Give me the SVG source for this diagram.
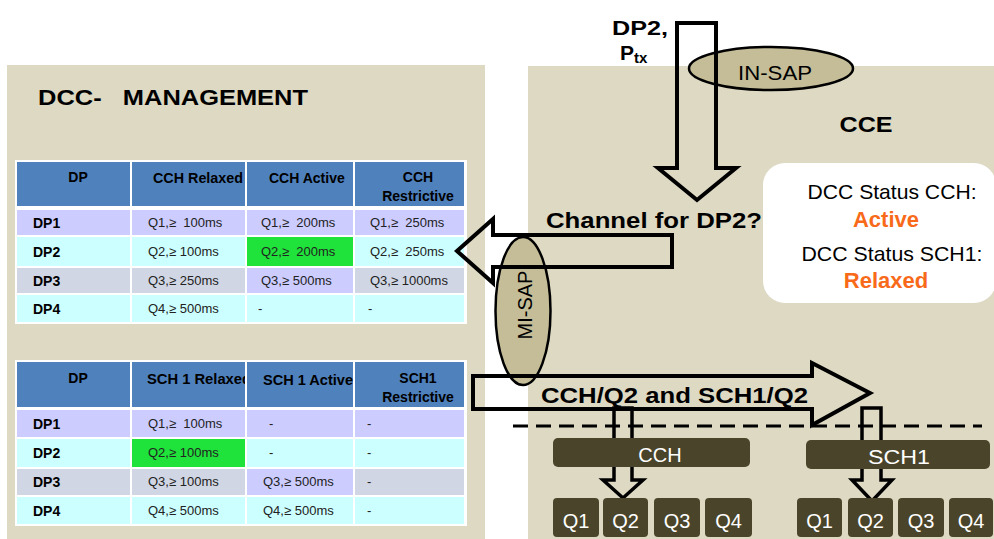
<svg xmlns="http://www.w3.org/2000/svg" width="994" height="539" viewBox="0 0 994 539">
<style>
text{font-family:"Liberation Sans",Arial,sans-serif;}
.b{font-weight:bold;}
.hd{font-size:14px;font-weight:bold;fill:#000;}
.lbl{font-size:14px;font-weight:bold;fill:#000;}
.cell{font-size:13px;fill:#222;white-space:pre;}
.h{fill:#4F81BD;}
.lav{fill:#CCCCFF;}
.cy{fill:#CCFFFF;}
.gr{fill:#D1D6E4;}
.grn{fill:#1FE23A;}
.panel{fill:#DDD9C3;}
.sap{fill:#C4BD97;stroke:#000;stroke-width:2.5;}
.arr{fill:none;stroke:#000;stroke-width:4;stroke-linejoin:miter;}
.sarr{fill:none;stroke:#000;stroke-width:3.5;stroke-linejoin:miter;}
.dk{fill:#4A452A;}
.wt{fill:#fff;font-size:20px;}
.or{fill:#F86A1A;font-weight:bold;font-size:22px;}
</style>
<defs>
<clipPath id="c2"><rect x="132" y="362" width="113" height="45"/></clipPath>
</defs>
<rect width="994" height="539" fill="#fff"/>
<g id="dcc-management">
<rect class="panel" x="7" y="65" width="478" height="474"/>
<text class="b" x="38" y="105" font-size="22" textLength="270" lengthAdjust="spacingAndGlyphs" xml:space="preserve">DCC-   MANAGEMENT</text>
</g>
<g id="cce">
<rect class="panel" x="528" y="66" width="466" height="473"/>
<text class="b" x="866" y="132" font-size="22" text-anchor="middle" textLength="53" lengthAdjust="spacingAndGlyphs">CCE</text>
</g>
<g id="table-cch">
<rect x="15" y="160" width="452" height="164" fill="#fff"/>
<rect class="h" x="17" y="162" width="113" height="44"/>
<rect class="h" x="132" y="162" width="113" height="44"/>
<rect class="h" x="247" y="162" width="106" height="44"/>
<rect class="h" x="355" y="162" width="109" height="44"/>
<text class="hd" x="78" y="182" text-anchor="middle">DP</text>
<text class="hd" x="153" y="183" textLength="90" lengthAdjust="spacingAndGlyphs">CCH Relaxed</text>
<text class="hd" x="269" y="183">CCH Active</text>
<text class="hd" x="418" y="182" text-anchor="middle">CCH</text>
<text class="hd" x="418" y="201" text-anchor="middle">Restrictive</text>
<rect class="lav" x="17" y="210" width="113" height="25"/>
<rect class="lav" x="132" y="210" width="113" height="25"/>
<rect class="lav" x="247" y="210" width="106" height="25"/>
<rect class="lav" x="355" y="210" width="109" height="25"/>
<rect class="cy" x="17" y="237" width="113" height="29"/>
<rect class="cy" x="132" y="237" width="113" height="29"/>
<rect class="grn" x="247" y="237" width="106" height="29"/>
<rect class="cy" x="355" y="237" width="109" height="29"/>
<rect class="gr" x="17" y="268" width="113" height="25"/>
<rect class="gr" x="132" y="268" width="113" height="25"/>
<rect class="lav" x="247" y="268" width="106" height="25"/>
<rect class="gr" x="355" y="268" width="109" height="25"/>
<rect class="cy" x="17" y="295" width="113" height="27"/>
<rect class="cy" x="132" y="295" width="113" height="27"/>
<rect class="cy" x="247" y="295" width="106" height="27"/>
<rect class="cy" x="355" y="295" width="109" height="27"/>
<text class="lbl" x="33" y="228">DP1</text>
<text class="lbl" x="33" y="257">DP2</text>
<text class="lbl" x="33" y="286">DP3</text>
<text class="lbl" x="33" y="314">DP4</text>
<text class="cell" x="148" y="227">Q1,≥  100ms</text>
<text class="cell" x="261" y="227">Q1,≥  200ms</text>
<text class="cell" x="370" y="227">Q1,≥  250ms</text>
<text class="cell" x="148" y="256">Q2,≥ 100ms</text>
<text class="cell" x="261" y="256">Q2,≥  200ms</text>
<text class="cell" x="370" y="256">Q2,≥  250ms</text>
<text class="cell" x="148" y="285">Q3,≥ 250ms</text>
<text class="cell" x="261" y="285">Q3,≥ 500ms</text>
<text class="cell" x="370" y="285">Q3,≥ 1000ms</text>
<text class="cell" x="148" y="313">Q4,≥ 500ms</text>
<text class="cell" x="258" y="313">-</text>
<text class="cell" x="368" y="313">-</text>
</g>
<g id="table-sch1">
<rect x="15" y="360" width="452" height="166" fill="#fff"/>
<rect class="h" x="17" y="362" width="113" height="45"/>
<rect class="h" x="132" y="362" width="113" height="45"/>
<rect class="h" x="247" y="362" width="106" height="45"/>
<rect class="h" x="355" y="362" width="109" height="45"/>
<text class="hd" x="78" y="383" text-anchor="middle">DP</text>
<text class="hd" x="147" y="384" clip-path="url(#c2)" textLength="104" lengthAdjust="spacingAndGlyphs">SCH 1 Relaxed</text>
<text class="hd" x="263" y="385" textLength="90" lengthAdjust="spacingAndGlyphs">SCH 1 Active</text>
<text class="hd" x="418" y="383" text-anchor="middle">SCH1</text>
<text class="hd" x="418" y="402" text-anchor="middle">Restrictive</text>
<rect class="lav" x="17" y="410" width="113" height="27"/>
<rect class="lav" x="132" y="410" width="113" height="27"/>
<rect class="lav" x="247" y="410" width="106" height="27"/>
<rect class="lav" x="355" y="410" width="109" height="27"/>
<rect class="cy" x="17" y="439" width="113" height="28"/>
<rect class="grn" x="132" y="439" width="113" height="28"/>
<rect class="cy" x="247" y="439" width="106" height="28"/>
<rect class="cy" x="355" y="439" width="109" height="28"/>
<rect class="gr" x="17" y="469" width="113" height="26"/>
<rect class="gr" x="132" y="469" width="113" height="26"/>
<rect class="lav" x="247" y="469" width="106" height="26"/>
<rect class="gr" x="355" y="469" width="109" height="26"/>
<rect class="cy" x="17" y="497" width="113" height="27"/>
<rect class="cy" x="132" y="497" width="113" height="27"/>
<rect class="cy" x="247" y="497" width="106" height="27"/>
<rect class="cy" x="355" y="497" width="109" height="27"/>
<text class="lbl" x="33" y="429">DP1</text>
<text class="lbl" x="33" y="458">DP2</text>
<text class="lbl" x="33" y="487">DP3</text>
<text class="lbl" x="33" y="516">DP4</text>
<text class="cell" x="148" y="428">Q1,≥  100ms</text>
<text class="cell" x="269" y="428">-</text>
<text class="cell" x="367" y="428">-</text>
<text class="cell" x="148" y="457">Q2,≥ 100ms</text>
<text class="cell" x="269" y="457">-</text>
<text class="cell" x="367" y="457">-</text>
<text class="cell" x="148" y="486">Q3,≥ 100ms</text>
<text class="cell" x="263" y="486">Q3,≥ 500ms</text>
<text class="cell" x="367" y="486">-</text>
<text class="cell" x="148" y="515">Q4,≥ 500ms</text>
<text class="cell" x="263" y="515">Q4,≥ 500ms</text>
<text class="cell" x="367" y="515">-</text>
</g>
<g id="dcc-status">
<rect x="763" y="163" width="233" height="140" rx="22" fill="#fff"/>
<text x="892" y="199" font-size="21" text-anchor="middle" textLength="169" lengthAdjust="spacingAndGlyphs">DCC Status CCH:</text>
<text class="or" x="886" y="227" text-anchor="middle">Active</text>
<text x="892" y="261" font-size="21" text-anchor="middle" textLength="181" lengthAdjust="spacingAndGlyphs">DCC Status SCH1:</text>
<text class="or" x="886" y="288" text-anchor="middle">Relaxed</text>
</g>
<g id="in-sap">
<ellipse class="sap" cx="771" cy="68.5" rx="82" ry="21.5"/>
<text x="775" y="80" font-size="21" text-anchor="middle" textLength="74" lengthAdjust="spacingAndGlyphs">IN-SAP</text>
</g>
<g id="mi-sap">
<ellipse class="sap" cx="523" cy="311" rx="27.5" ry="74"/>
<text transform="translate(532,305) rotate(-90)" font-size="20" text-anchor="middle">MI-SAP</text>
</g>
<g id="dp2-input">
<text class="b" x="612" y="35" font-size="21" textLength="56" lengthAdjust="spacingAndGlyphs">DP2,</text>
<text class="b" x="620" y="60" font-size="21">P<tspan font-size="15" dy="3">tx</tspan></text>
</g>
<g id="connectors">
<polygon class="arr" points="677,23 716,23 716,168 736,168 697,200 658,168 677,168"/>
<polygon class="arr" points="672,235 672,267 493,267 493,283 457,251 493,219 493,235"/>
<polygon class="arr" points="473,376 812,376 812,363 870,393 812,425 812,409 473,409"/>
<polygon class="sarr" points="614,408 632,408 632,480 643,480 623,498 603,480 614,480"/>
<polygon class="sarr" points="862,408 881,408 881,480 892,480 872,501 852,480 862,480"/>
<line x1="513" y1="426" x2="982" y2="426" stroke="#000" stroke-width="3" stroke-dasharray="15 8"/>
<text class="b" x="546" y="228" font-size="22" textLength="216" lengthAdjust="spacingAndGlyphs">Channel for DP2?</text>
<text class="b" x="541" y="403" font-size="22" textLength="267" lengthAdjust="spacingAndGlyphs">CCH/Q2 and SCH1/Q2</text>
</g>
<g id="cch">
<rect class="dk" x="553" y="438" width="197" height="29" rx="5"/>
<text class="wt" x="660" y="462" font-size="21" text-anchor="middle">CCH</text>
</g>
<g id="sch1">
<rect class="dk" x="806" y="440" width="184" height="29" rx="5"/>
<text class="wt" x="899" y="464" font-size="21" text-anchor="middle" textLength="62" lengthAdjust="spacingAndGlyphs">SCH1</text>
</g>
<g id="cch-queues">
<rect class="dk" x="553" y="498" width="46" height="39" rx="4"/>
<rect class="dk" x="603" y="498" width="45" height="39" rx="4"/>
<rect class="dk" x="654" y="498" width="46" height="39" rx="4"/>
<rect class="dk" x="705" y="498" width="47" height="39" rx="4"/>
<text class="wt" x="576" y="528" text-anchor="middle">Q1</text>
<text class="wt" x="625.5" y="528" text-anchor="middle">Q2</text>
<text class="wt" x="677" y="528" text-anchor="middle">Q3</text>
<text class="wt" x="728.5" y="528" text-anchor="middle">Q4</text>
</g>
<g id="sch1-queues">
<rect class="dk" x="797" y="498" width="45" height="39" rx="4"/>
<rect class="dk" x="848" y="498" width="45" height="39" rx="4"/>
<rect class="dk" x="898" y="498" width="46" height="39" rx="4"/>
<rect class="dk" x="949" y="498" width="44" height="39" rx="4"/>
<text class="wt" x="819.5" y="528" text-anchor="middle">Q1</text>
<text class="wt" x="870.5" y="528" text-anchor="middle">Q2</text>
<text class="wt" x="921" y="528" text-anchor="middle">Q3</text>
<text class="wt" x="971" y="528" text-anchor="middle">Q4</text>
</g>
</svg>
